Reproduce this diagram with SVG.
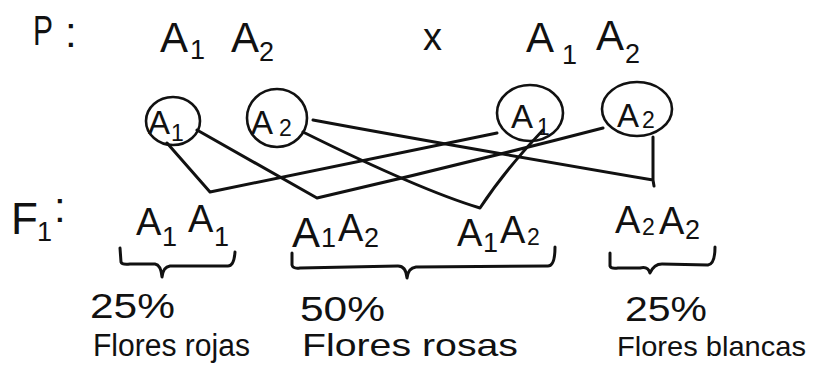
<svg xmlns="http://www.w3.org/2000/svg" width="814" height="368" viewBox="0 0 814 368">
  <style>
    .ink { fill: none; stroke: #111; stroke-width: 3; stroke-linecap: round; stroke-linejoin: round; }
    .ring { fill: none; stroke: #111; stroke-width: 2.6; }
    text { font-family: "Liberation Sans", Arial, sans-serif; fill: #111; }
    .big { font-size: 42px; }
    .sub { font-size: 27px; }
    .mid { font-size: 38px; }
    .gam { font-size: 33px; }
    .small { font-size: 23px; }
    .pct { font-size: 35px; }
    .lbl { font-size: 32px; }
  </style>
  <rect width="814" height="368" fill="#fff"/>

  <!-- parental generation -->
  <g id="parents">
    <text class="big" x="33" y="45" textLength="20" lengthAdjust="spacingAndGlyphs">P</text>
    <text class="big" x="65" y="47">:</text>
    <text class="big" x="160" y="52">A</text>
    <text class="sub" x="190" y="59">1</text>
    <text class="big" x="231" y="52">A</text>
    <text class="sub" x="259" y="61">2</text>
    <text class="mid" x="423" y="50">x</text>
    <text class="big" x="526" y="52">A</text>
    <text class="sub" x="562" y="64">1</text>
    <text class="big" x="596" y="50">A</text>
    <text class="sub" x="625" y="63">2</text>
  </g>

  <!-- gametes -->
  <g id="gamete-left-a1">
    <ellipse class="ring" cx="173" cy="121" rx="27" ry="24"/>
    <text class="gam" x="148" y="134">A</text>
    <text class="small" x="171" y="141">1</text>
  </g>
  <g id="gamete-left-a2">
    <ellipse class="ring" cx="277" cy="118" rx="30" ry="29"/>
    <text class="gam" x="251" y="134">A</text>
    <text class="small" x="279" y="136">2</text>
  </g>
  <g id="gamete-right-a1">
    <ellipse class="ring" cx="530" cy="113" rx="33" ry="28"/>
    <text class="gam" x="511" y="128">A</text>
    <text class="small" x="537" y="135">1</text>
  </g>
  <g id="gamete-right-a2">
    <ellipse class="ring" cx="637" cy="109" rx="35" ry="27"/>
    <text class="gam" x="617" y="127">A</text>
    <text class="small" x="642" y="128">2</text>
  </g>

  <!-- crossing lines -->
  <g id="connectors">
    <path class="ink" d="M167,143 L210,192 L497,133"/>
    <path class="ink" d="M197,130 L317,198 Q460,165 603,128"/>
    <path class="ink" d="M303,132 Q420,190 480,208 Q505,170 543,130"/>
    <path class="ink" d="M313,120 Q420,140 653,180 L653,137 M653,180 L654,186"/>
  </g>

  <!-- offspring -->
  <g id="f1-label">
    <text x="11" y="234" style="font-size:44px">F</text>
    <text class="sub" x="37" y="241">1</text>
    <text class="big" x="54" y="222">:</text>
  </g>
  <g id="f1-a1a1">
    <text class="mid" x="136" y="235">A</text>
    <text class="sub" x="162" y="246">1</text>
    <text class="mid" x="188" y="232">A</text>
    <text class="sub" x="214" y="246">1</text>
  </g>
  <g id="f1-a1a2-left">
    <text class="big" x="292" y="247">A</text>
    <text class="sub" x="321" y="247">1</text>
    <text class="mid" x="338" y="241">A</text>
    <text class="sub" x="364" y="247">2</text>
  </g>
  <g id="f1-a1a2-right">
    <text class="mid" x="457" y="246">A</text>
    <text class="sub" x="483" y="252">1</text>
    <text class="mid" x="500" y="243">A</text>
    <text class="small" x="527" y="245">2</text>
  </g>
  <g id="f1-a2a2">
    <text class="mid" x="615" y="233">A</text>
    <text class="small" x="642" y="235">2</text>
    <text class="mid" x="659" y="234">A</text>
    <text class="sub" x="685" y="239">2</text>
  </g>

  <!-- grouping braces -->
  <g id="brace-rojas">
    <path class="ink" d="M120,248 L121,262 Q122,265 130,264 L155,264 Q161,265 162,277 Q163,267 170,266 L228,266 Q234,266 235,252"/>
    <text class="pct" x="90" y="318" textLength="85" lengthAdjust="spacingAndGlyphs">25%</text>
    <text x="93" y="356" style="font-size:31px" textLength="157" lengthAdjust="spacingAndGlyphs">Flores rojas</text>
  </g>
  <g id="brace-rosas">
    <path class="ink" d="M292,253 L292,265 Q293,269 300,268 L398,266 Q406,266 407,278 Q408,268 416,267 L548,266 Q555,266 555,247"/>
    <text class="pct" x="300" y="321" textLength="85" lengthAdjust="spacingAndGlyphs">50%</text>
    <text class="lbl" x="302" y="356" textLength="216" lengthAdjust="spacingAndGlyphs">Flores rosas</text>
  </g>
  <g id="brace-blancas">
    <path class="ink" d="M610,253 L610,266 Q611,269 618,268 L640,268 Q648,266 650,273 Q654,264 662,264 L708,265 Q715,264 715,247"/>
    <text class="pct" x="625" y="321" textLength="82" lengthAdjust="spacingAndGlyphs">25%</text>
    <text x="617" y="356" style="font-size:28px" textLength="189" lengthAdjust="spacingAndGlyphs">Flores blancas</text>
  </g>
</svg>
